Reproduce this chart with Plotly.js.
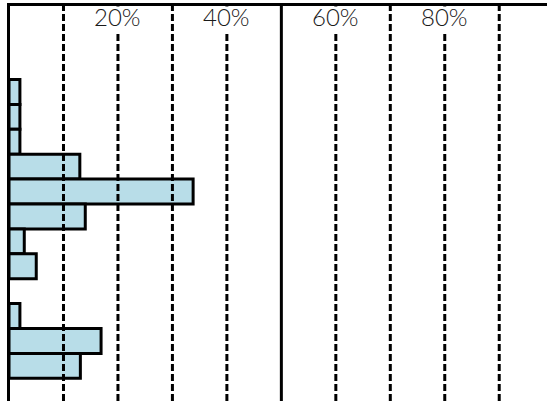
<!DOCTYPE html>
<html>
<head>
<meta charset="utf-8">
<script src="https://cdn.plot.ly/plotly-3.0.1.min.js"></script>
<style>
  html, body { margin: 0; padding: 0; background: #fff; overflow: hidden; }
  #chart { width: 547px; height: 401px; }
</style>
</head>
<body>
<div id="chart"></div>
<script>
// Rows from top to bottom; spacer rows have no value
const categories = ['gap1', 'gap2', 'gap3', 'A1', 'A2', 'A3', 'A4', 'A5', 'A6', 'A7', 'A8', 'gap4', 'B1', 'B2', 'B3', 'gap5'];
const shares     = [null, null, null, 0.02, 0.02, 0.02, 0.13, 0.338, 0.14, 0.028, 0.05, null, 0.02, 0.169, 0.131, null];

// Axis ticks / gridlines
const gridVals   = [0.1, 0.2, 0.3, 0.4, 0.6, 0.7, 0.8, 0.9];
const refVals    = [0.5];
const tickVals   = [0.2, 0.4, 0.6, 0.8];
const tickLabels = ['20%', '40%', '60%', '80%'];

const barTrace = {
  type: 'bar',
  orientation: 'h',
  x: shares,
  y: categories,
  marker: { color: '#b8dde8', line: { color: '#000', width: 3 } },
  hoverinfo: 'skip'
};

const shapes = [];
gridVals.forEach(v => shapes.push({
  type: 'line', xref: 'x', yref: 'paper', x0: v, x1: v, y0: 0, y1: 1,
  layer: 'above', line: { color: '#000', width: 3, dash: '7px,3px' }
}));
refVals.forEach(v => shapes.push({
  type: 'line', xref: 'x', yref: 'paper', x0: v, x1: v, y0: 0, y1: 1,
  layer: 'above', line: { color: '#000', width: 3 }
}));

// white backing boxes behind the tick labels (interrupt the gridlines)
const labelBoxes = tickVals.map(v => ({
  x: v, xref: 'x', y: 1, yref: 'paper', yanchor: 'top', xanchor: 'center',
  text: '&nbsp;', showarrow: false, bgcolor: '#fff', borderpad: 0,
  width: 50, height: 26,
  font: { size: 10, color: 'rgba(0,0,0,0)' }
}));
const labelTexts = tickVals.map((v, i) => ({
  x: v, xref: 'x', y: 1, yref: 'paper', yanchor: 'top', xanchor: 'center',
  yshift: 5,
  text: tickLabels[i], showarrow: false, borderpad: 0,
  font: { family: 'Lato, sans-serif', size: 24, color: '#1a1a1a', weight: 300 }
}));

const layout = {
  width: 547, height: 401,
  margin: { l: 10, r: 0, t: 6, b: 0, pad: 0 },
  paper_bgcolor: '#fff', plot_bgcolor: '#fff',
  showlegend: false,
  bargap: 0,
  xaxis: {
    side: 'top', range: [0.0018, 0.9877], showgrid: false, zeroline: false,
    showticklabels: false, ticks: '', showline: true, linecolor: '#000', linewidth: 3
  },
  yaxis: {
    type: 'category', range: [15.41, -0.45], showgrid: false, zeroline: false,
    showticklabels: false, ticks: '', showline: true, linecolor: '#000', linewidth: 3
  },
  shapes: shapes,
  annotations: labelBoxes.concat(labelTexts)
};

Plotly.newPlot('chart', [barTrace], layout, { staticPlot: true, displayModeBar: false });
</script>
</body>
</html>
